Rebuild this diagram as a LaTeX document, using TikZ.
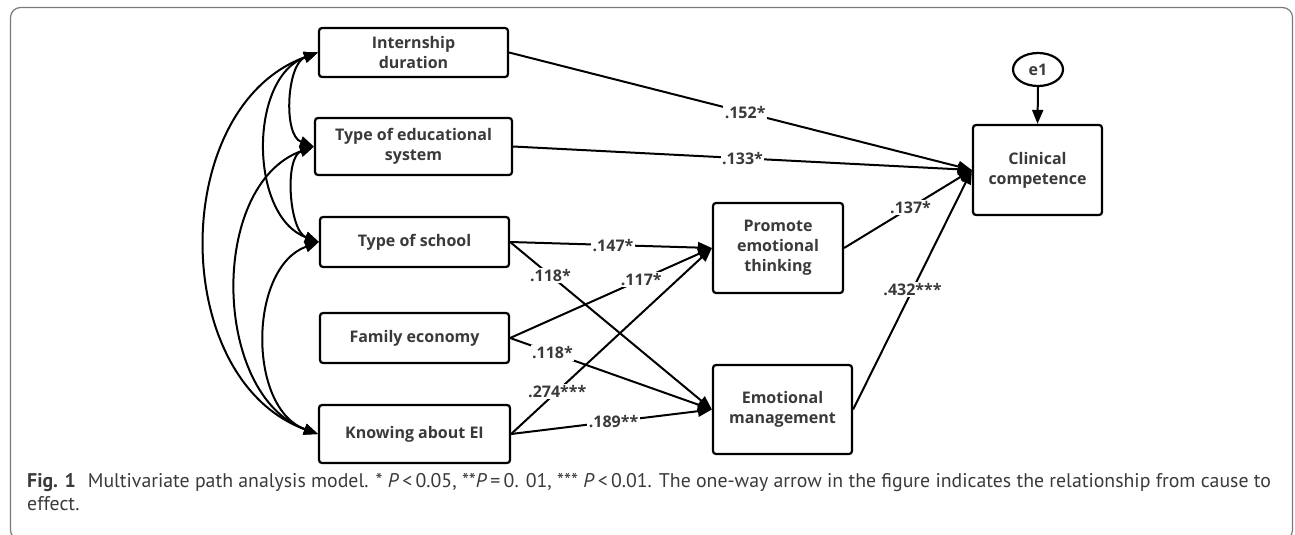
\documentclass[tikz,border=0pt]{standalone}
\usepackage{fontspec}
\setmainfont{Open Sans}
\newfontfamily\capfont{PT Sans}
\usetikzlibrary{arrows.meta,shapes.geometric}
\definecolor{txt}{HTML}{3A3A3A}
\definecolor{framec}{HTML}{7A7A7A}
\tikzset{
  var/.style={draw=black, line width=2.2pt, rounded corners=3pt, fill=white,
    align=center, font=\fontsize{16}{20}\selectfont\bfseries, text=txt, inner sep=0pt},
  errnode/.style={draw=black, line width=2.2pt, ellipse, inner sep=0pt,
    minimum width=50pt, minimum height=33pt, font=\fontsize{16}{20}\selectfont\bfseries, text=txt},
  path/.style={line width=2pt, -{Triangle[length=14pt,width=11pt]}},
  corr/.style={line width=2pt, {Triangle[length=14pt,width=11pt]}-{Triangle[length=14pt,width=11pt]}},
  coef/.style={fill=white, inner sep=1.5pt, font=\fontsize{16}{18}\selectfont\bfseries, text=txt},
  captext/.style={anchor=base west, inner sep=0pt, text=txt, font=\capfont\fontsize{19.8}{24}\selectfont},
}
\begin{document}
\begin{tikzpicture}[x=1pt,y=1pt]
\useasboundingbox (0,0) rectangle (1295,-535);
\begin{scope}
\clip (0,0) rectangle (1295,-535);
\draw[framec, line width=1.2pt, rounded corners=10pt] (10.5,-7.5) rectangle (1292.5,-540);
\end{scope}

% nodes
\node[var, minimum width=189pt, minimum height=49pt] (intern) at (413.5,-52.5) {Internship\\duration};
\node[var, minimum width=197pt, minimum height=57pt] (edu) at (413.5,-146.5) {Type of educational\\system};
\node[var, minimum width=189pt, minimum height=50pt] (school) at (414.5,-242) {Type of school};
\node[var, minimum width=189pt, minimum height=50pt] (family) at (414.5,-338) {Family economy};
\node[var, minimum width=191pt, minimum height=58pt] (know) at (414.5,-434) {Knowing about EI};
\node[var, minimum width=130pt, minimum height=90pt] (promote) at (778,-248) {Promote\\emotional\\thinking};
\node[var, minimum width=139pt, minimum height=89pt] (emot) at (782.5,-409.5) {Emotional\\management};
\node[var, minimum width=129pt, minimum height=90pt] (clin) at (1037.5,-170) {Clinical\\competence};
\node[errnode] (e1) at (1038,-69.5) {e1};

% correlations
\draw[corr] (intern.west) to[out=200,in=160,looseness=1.07] (know.west);
\draw[corr] (edu.west) to[out=200,in=160,looseness=1.0] (know.west);
\draw[corr] (school.west) to[out=200,in=160,looseness=1.0] (know.west);
\draw[corr] (intern.west) to[out=200,in=160,looseness=1.0] (school.west);
\draw[corr] (intern.west) to[out=200,in=160,looseness=0.9] (edu.west);
\draw[corr] (edu.west) to[out=200,in=160,looseness=0.85] (school.west);

% paths
\draw[path] (intern.east) -- node[coef, pos=0.51] {.152*} (clin.west);
\draw[path] (edu.east) -- node[coef, pos=0.50] {.133*} (clin.west);
\draw[path] (school.east) -- node[coef, pos=0.51] {.147*} (promote.west);
\draw[path] (school.east) -- node[coef, pos=0.2] {.118*} (emot.west);
\draw[path] (family.east) -- node[coef, pos=0.65] {.117*} (promote.west);
\draw[path] (family.east) -- node[coef, pos=0.21] {.118*} (emot.west);
\draw[path] (know.east) -- node[coef, pos=0.23] {.274***} (promote.west);
\draw[path] (know.east) -- node[coef, pos=0.51] {.189**} (emot.west);
\draw[path] (promote.east) -- node[coef, pos=0.52] {.137*} (clin.west);
\draw[path] (emot.east) -- node[coef, pos=0.5] {.432***} (clin.west);
\draw[path] (e1.south) -- (clin.north);

% caption
\node[captext] (cap1) at (27,-487)
  {\textbf{Fig. 1}\hspace{0.6em}Multivariate path analysis model. * \textit{P}\,<\,0.05, **\textit{P}\,=\,0. 01, *** \textit{P}\,<\,0.01. The one-way arrow in the figure indicates the relationship from cause to};
\node[captext] (cap2) at (27,-510) {effect.};
\end{tikzpicture}
\end{document}
